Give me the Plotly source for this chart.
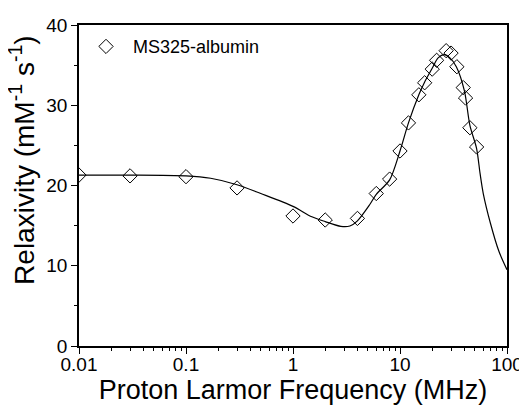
import plotly.graph_objects as go

# measured data points (MHz, relaxivity)
freq = [0.01, 0.03, 0.1, 0.3, 1, 2, 4, 6, 8, 10, 12, 15, 17, 20, 22, 27, 30, 34, 39, 41, 45, 52]
relax = [21.3, 21.2, 21.1, 19.7, 16.2, 15.7, 15.9, 19.0, 20.8, 24.3, 27.8, 31.3, 32.8, 34.5, 35.6,
         36.8, 36.5, 34.8, 32.2, 30.9, 27.2, 24.8]

# fitted curve
fit_freq = [0.01, 0.03, 0.1, 0.17, 0.3, 0.5, 1, 1.5, 2, 2.8, 3.4, 4, 5.2, 6, 8, 10, 12, 15, 17, 20,
            22.7, 26, 29.3, 33.6, 40, 45, 52, 56, 60, 70, 84, 100]
fit_relax = [21.3, 21.3, 21.2, 20.9, 20.1, 19.0, 17.4, 16.1, 15.5, 14.9, 14.95, 15.6, 17.6, 18.9, 20.7,
             24.3, 27.8, 31.3, 32.9, 34.6, 35.9, 36.3, 35.9, 34.8, 31.8, 27.5, 24.6, 21.5, 19.0, 15.3,
             11.8, 9.5]

x_ticks = [0.01, 0.1, 1, 10, 100]
x_ticktext = ["0.01", "0.1", "1", "10", "100"]
x_minor_ticks = [m * d for d in [0.01, 0.1, 1, 10] for m in range(2, 10)]
y_ticks = [0, 10, 20, 30, 40]

FONT = "Liberation Sans, Arial, sans-serif"

fig = go.Figure()
fig.add_trace(go.Scatter(x=fit_freq, y=fit_relax, mode="lines",
                         line=dict(color="black", width=1.2, shape="spline", smoothing=0.8),
                         showlegend=False, hoverinfo="skip"))
fig.add_trace(go.Scatter(x=freq, y=relax, mode="markers", name="MS325-albumin",
                         marker=dict(symbol="diamond-open", size=11, color="black",
                                     line=dict(color="black", width=1))))

# page body has an 8px margin, so the figure is sized to fill the window exactly
fig.update_layout(
    width=519, height=404,
    margin=dict(l=71, r=20, t=17, b=66),
    paper_bgcolor="white", plot_bgcolor="white",
    font=dict(family=FONT, color="black"),
    legend=dict(x=0.0, y=0.99, xanchor="left", yanchor="top",
                font=dict(size=18, family=FONT), bgcolor="rgba(0,0,0,0)",
                itemwidth=44),
)
fig.add_annotation(text="Relaxivity (mM<sup>-1</sup> s<sup>-1</sup>)", textangle=-90,
                   xref="paper", yref="paper", x=-0.133, y=0.58,
                   xanchor="center", yanchor="middle", showarrow=False,
                   font=dict(size=28, family=FONT, color="black"))
fig.update_xaxes(type="log", range=[-2, 2], tickvals=x_ticks, ticktext=x_ticktext,
                 ticks="outside", ticklen=6, tickwidth=1.2, tickcolor="black",
                 showline=True, linecolor="black", linewidth=1.5, mirror=True,
                 showgrid=False, zeroline=False, automargin=False,
                 tickfont=dict(size=19, family=FONT), ticklabelstandoff=-6,
                 minor=dict(ticks="outside", ticklen=3, tickwidth=1, tickcolor="black",
                            tickvals=x_minor_ticks, showgrid=False),
                 title=dict(text="Proton Larmor Frequency (MHz)", font=dict(size=27, family=FONT),
                            standoff=2))
fig.update_yaxes(range=[0, 40], tickvals=y_ticks,
                 ticks="outside", ticklen=6, tickwidth=1.2, tickcolor="black",
                 showline=True, linecolor="black", linewidth=1.5, mirror=True,
                 showgrid=False, zeroline=False, automargin=False,
                 tickfont=dict(size=19, family=FONT),
                 minor=dict(ticks="outside", ticklen=3, tickwidth=1, tickcolor="black",
                            dtick=5, showgrid=False))

fig.write_html("out.html")
